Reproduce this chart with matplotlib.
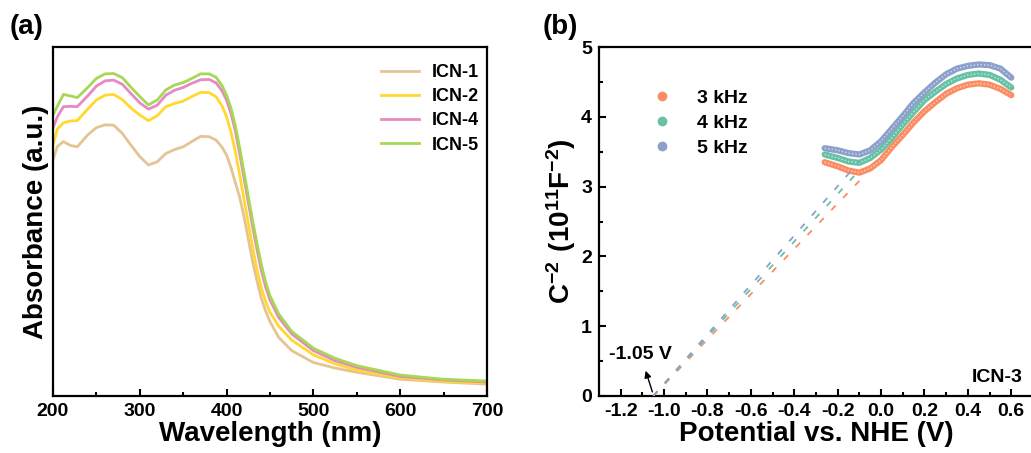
import matplotlib
matplotlib.use("Agg")
import matplotlib.pyplot as plt
from matplotlib.lines import Line2D

plt.rcParams['font.family'] = ['Liberation Sans', 'DejaVu Sans']
plt.rcParams['font.weight'] = 'bold'
plt.rcParams['mathtext.fontset'] = 'custom'
plt.rcParams['mathtext.rm'] = 'Liberation Sans:bold'
plt.rcParams['mathtext.bf'] = 'Liberation Sans:bold'
plt.rcParams['mathtext.default'] = 'bf'

# ---- (a) UV-vis absorbance ----
wavelength = [200, 205, 212, 220, 228, 240, 250, 260, 270, 280, 290, 300, 310,
              320, 330, 340, 350, 360, 370, 380, 388, 395, 400, 405, 410, 415,
              420, 425, 430, 435, 440, 445, 450, 460, 475, 500, 525, 550, 600,
              650, 700]
icn1 = [.676, .715, .729, .718, .714, .748, .769, .777, .776, .752, .718, .686,
        .662, .671, .695, .706, .714, .729, .744, .743, .733, .712, .690, .655,
        .612, .570, .515, .450, .385, .330, .280, .243, .213, .168, .130, .096,
        .080, .068, .048, .040, .034]
icn2 = [.719, .765, .783, .788, .789, .822, .848, .862, .864, .849, .825, .805,
        .789, .803, .829, .838, .845, .858, .870, .869, .857, .830, .800, .757,
        .700, .635, .565, .495, .425, .362, .310, .270, .240, .200, .160, .118,
        .092, .074, .052, .042, .037]
icn4 = [.768, .800, .829, .830, .829, .860, .888, .903, .905, .893, .866, .840,
        .822, .833, .862, .876, .884, .896, .906, .907, .897, .873, .847, .810,
        .760, .695, .625, .555, .485, .420, .360, .312, .275, .225, .178, .130,
        .101, .082, .056, .046, .040]
icn5 = [.805, .830, .864, .860, .855, .884, .910, .923, .924, .912, .884, .858,
        .834, .848, .877, .891, .898, .910, .923, .923, .913, .888, .862, .825,
        .775, .712, .642, .572, .502, .437, .377, .326, .287, .235, .185, .137,
        .108, .087, .060, .048, .043]
uv_labels = ['ICN-1', 'ICN-2', 'ICN-4', 'ICN-5']
uv_colors = ['#E5C494', '#FFD92F', '#E78AC3', '#A6D854']

# ---- (b) Mott-Schottky ----
potential = [-0.26, -0.20, -0.15, -0.10, -0.05, 0.00, 0.05, 0.10, 0.15, 0.20,
             0.25, 0.30, 0.35, 0.40, 0.45, 0.50, 0.55, 0.60]
ms_3k = [3.35, 3.29, 3.23, 3.20, 3.26, 3.38, 3.57, 3.74, 3.92, 4.08, 4.21, 4.33,
         4.41, 4.46, 4.48, 4.46, 4.40, 4.31]
ms_4k = [3.46, 3.41, 3.36, 3.34, 3.41, 3.53, 3.70, 3.89, 4.07, 4.24, 4.36, 4.47,
         4.55, 4.60, 4.62, 4.60, 4.53, 4.42]
ms_5k = [3.55, 3.52, 3.48, 3.46, 3.52, 3.65, 3.83, 4.01, 4.20, 4.35, 4.49, 4.61,
         4.69, 4.73, 4.75, 4.74, 4.69, 4.56]
# linear fits: (x0, x1), (y0, y1)
fit_3k = ([-1.05, -0.07], [0.0, 3.18])
fit_4k = ([-1.05, -0.09], [0.0, 3.27])
fit_5k = ([-1.05, -0.10], [0.0, 3.36])
ms_labels = ['3 kHz', '4 kHz', '5 kHz']
ms_colors = ['#FC8D62', '#66C2A5', '#8DA0CB']
flat_band = -1.05

fig = plt.figure(figsize=(10.31, 4.53), dpi=100)
ax1 = fig.add_axes([53/1031, 57/453, 434/1031, 349/453])
ax2 = fig.add_axes([599/1031, 57/453, 434/1031, 349/453])

for ax in (ax1, ax2):
    for s in ax.spines.values():
        s.set_linewidth(1.6)
    ax.tick_params(which='both', direction='in', width=1.5, labelsize=14,
                   pad=5)
    ax.tick_params(which='major', length=5)
    ax.tick_params(which='minor', length=3)

# panel a
for y, lab, c in zip([icn1, icn2, icn4, icn5], uv_labels, uv_colors):
    ax1.plot(wavelength, y, color=c, lw=2, label=lab)
ax1.set_xlim(200, 700)
ax1.set_ylim(0, 1)
ax1.set_xticks([200, 300, 400, 500, 600, 700])
ax1.set_xticks([250, 350, 450, 550, 650], minor=True)
ax1.set_yticks([])
ax1.set_xlabel('Wavelength (nm)', fontsize=20, fontweight='bold', labelpad=1)
ax1.set_ylabel('Absorbance (a.u.)', fontsize=20, fontweight='bold', labelpad=3)
ax1.legend(loc='upper right', bbox_to_anchor=(1.019, 0.998), frameon=False,
           fontsize=13, handlelength=2.1, handletextpad=0.7, labelspacing=0.4)

# panel b
for x_f, c in zip([fit_3k, fit_4k, fit_5k], ms_colors):
    ax2.plot(x_f[0], x_f[1], color=c, lw=1.3, dashes=(3.5, 6.0), zorder=3)
for y, c in zip([ms_3k, ms_4k, ms_5k], ms_colors):
    ax2.plot(potential, y, color=c, lw=4.5, solid_capstyle='round', zorder=2)
    ax2.plot(potential, y, color='white', lw=1.0, alpha=0.6,
             dashes=(1, 1.5), zorder=2)

ax2.set_xlim(-1.3, 0.7)
ax2.set_ylim(0, 5)
ax2.set_xticks([-1.2, -1.0, -0.8, -0.6, -0.4, -0.2, 0.0, 0.2, 0.4, 0.6])
ax2.set_xticks([-1.1, -0.9, -0.7, -0.5, -0.3, -0.1, 0.1, 0.3, 0.5], minor=True)
ax2.set_xticklabels(['-1.2', '-1.0', '-0.8', '-0.6', '-0.4', '-0.2', '0.0',
                     '0.2', '0.4', '0.6'])
ax2.set_yticks([0, 1, 2, 3, 4, 5])
ax2.set_yticks([0.5, 1.5, 2.5, 3.5, 4.5], minor=True)
ax2.set_xlabel('Potential vs. NHE (V)', fontsize=20, fontweight='bold',
               labelpad=1)
ax2.set_ylabel(r'$\mathbf{C^{-2}\ (10^{11}F^{-2})}$', fontsize=20, labelpad=2)

handles = [Line2D([], [], ls='none', marker='o', markersize=6,
                  markerfacecolor=c, markeredgecolor=c) for c in ms_colors]
ax2.legend(handles, ms_labels, loc='upper left', bbox_to_anchor=(0.082, 0.929),
           frameon=False, fontsize=14, handlelength=1.0, handletextpad=1.3,
           labelspacing=0.38)

ax2.annotate('', xy=(-1.089, 0.40), xytext=(flat_band, 0.02),
             arrowprops=dict(arrowstyle='-|>', lw=1.0, color='black',
                             mutation_scale=10))
ax2.text(-1.108, 0.59, '%.2f V' % flat_band, fontsize=14, fontweight='bold',
         ha='center', va='center')
ax2.text(0.537, 0.26, 'ICN-3', fontsize=14, fontweight='bold', ha='center',
         va='center')

fig.text(10/1031, 1 - 27/453, '(a)', fontsize=20, fontweight='bold',
         va='center')
fig.text(543/1031, 1 - 27/453, '(b)', fontsize=20, fontweight='bold',
         va='center')

fig.savefig('out.png', dpi=100)
